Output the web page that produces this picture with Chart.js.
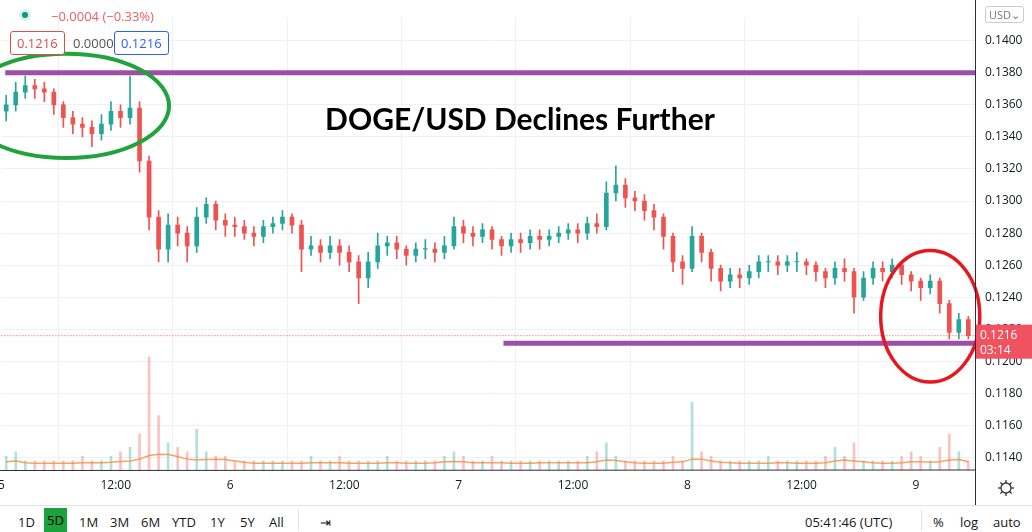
<!DOCTYPE html>
<html><head><meta charset="utf-8">
<script src="https://cdn.jsdelivr.net/npm/chart.js@4"></script>
<style>
body{margin:0;width:1032px;height:532px;overflow:hidden;background:#fff;font-family:"Open Sans",sans-serif;position:relative}
#wrap{position:absolute;left:-10px;top:0;width:1042px;height:505px}
.ov{position:absolute;font-size:13px}
.box{position:absolute;border:1px solid;border-radius:3px;padding:2px 6px;font-size:13px;background:#fff}
#bar{position:absolute;left:0;top:505px;width:1032px;height:27px;border-top:1px solid #e0e3eb;font-size:13px;color:#131722}
#bar span{position:absolute;top:7px}
</style></head><body>
<div id="wrap"><canvas id="c" width="1042" height="505"></canvas></div>
<div class="ov" style="left:19px;top:9px;width:12px;height:12px;border-radius:50%;background:#d9efe9"></div>
<div class="ov" style="left:22px;top:12px;width:6px;height:6px;border-radius:50%;background:#089981"></div>
<div class="ov" style="left:51px;top:7px;color:#f05e5e">−0.0004 (−0.33%)</div>
<div class="box" style="left:10px;top:31px;color:#e04b4b;border-color:#e04b4b">0.1216</div>
<div class="ov" style="left:73px;top:34px;color:#555">0.0000</div>
<div class="box" style="left:114px;top:31px;color:#2962ff;border-color:#2962ff">0.1216</div>
<div class="ov" style="left:300px;top:100px;width:440px;text-align:center;font-family:Lato,sans-serif;font-weight:bold;font-size:30px;color:#000">DOGE/USD Declines Further</div>
<div class="box" style="left:985px;top:6px;color:#777;border-color:#ccc;padding:0 3px;font-size:11px">USD⌄</div>
<div id="bar">
<span style="left:18px">1D</span>
<span style="left:44px;top:2px;padding:3px 3px;background:#1aa33c;color:#000">5D</span>
<span style="left:79px">1M</span><span style="left:110px">3M</span><span style="left:141px">6M</span>
<span style="left:172px">YTD</span><span style="left:210px">1Y</span><span style="left:240px">5Y</span><span style="left:269px">All</span>
<span style="left:298px;top:4px;height:20px;border-left:1px solid #e0e3eb"></span>
<span style="left:320px">⇥</span>
<span style="left:805px">05:41:46 (UTC)</span>
<span style="left:921px;top:4px;height:20px;border-left:1px solid #e0e3eb"></span>
<span style="left:933px">%</span><span style="left:960px">log</span><span style="left:993px">auto</span>
</div>
<script>
const opens=[.1356,.1360,.1368,.1372,.1370,.1368,.1360,.1352,.1348,.1346,.1342,.1348,.1356,.1352,.1358,.1325,.1290,.1270,.1285,.1280,.1272,.1290,.1298,.1288,.1285,.1284,.1280,.1278,.1284,.1286,.1290,.1285,.1270,.1272,.1268,.1272,.1268,.1262,.1252,.1262,.1272,.1274,.1270,.1266,.1270,.1270,.1268,.1272,.1284,.1280,.1278,.1282,.1276,.1272,.1276,.1274,.1278,.1276,.1278,.1280,.1282,.1280,.1286,.1284,.1305,.1310,.1302,.1300,.1294,.1290,.1278,.1262,.1258,.1278,.1268,.1258,.1250,.1254,.1252,.1256,.1262,.1262,.1260,.1262,.1262,.1260,.1256,.1252,.1258,.1256,.1240,.1252,.1258,.1256,.1260,.1254,.1250,.1246,.1250,.1236,.1218,.1226];
const closes=[.1360,.1368,.1372,.1370,.1368,.1360,.1352,.1348,.1346,.1342,.1348,.1356,.1352,.1358,.1325,.1290,.1270,.1285,.1280,.1272,.1290,.1298,.1288,.1285,.1284,.1280,.1278,.1284,.1286,.1290,.1285,.1270,.1272,.1268,.1272,.1268,.1262,.1252,.1262,.1272,.1274,.1270,.1266,.1270,.1270,.1268,.1272,.1284,.1280,.1278,.1282,.1276,.1272,.1276,.1274,.1278,.1276,.1278,.1280,.1282,.1280,.1286,.1284,.1305,.1310,.1302,.1300,.1294,.1290,.1278,.1262,.1258,.1278,.1268,.1258,.1250,.1254,.1252,.1256,.1262,.1262,.1260,.1262,.1262,.1260,.1256,.1252,.1258,.1256,.1240,.1252,.1258,.1256,.1260,.1254,.1250,.1246,.1250,.1236,.1218,.1226,.1216];
const highs=[.1366,.1374,.1378,.1376,.1374,.1370,.1362,.1356,.1352,.1350,.1354,.1362,.1360,.1378,.1362,.1328,.1294,.1292,.1290,.1284,.1296,.1302,.1300,.1292,.1290,.1288,.1284,.1288,.1290,.1294,.1292,.1288,.1278,.1276,.1278,.1276,.1272,.1266,.1268,.1280,.1278,.1278,.1272,.1274,.1276,.1274,.1278,.1290,.1288,.1284,.1286,.1284,.1278,.1280,.1280,.1282,.1282,.1282,.1284,.1286,.1286,.1290,.1292,.1312,.1322,.1314,.1306,.1304,.1298,.1292,.1280,.1266,.1284,.1280,.1270,.1260,.1258,.1258,.1260,.1266,.1266,.1266,.1266,.1268,.1264,.1262,.1258,.1262,.1264,.1258,.1256,.1262,.1262,.1264,.1262,.1256,.1252,.1254,.1252,.1238,.1230,.1228];
const lows=[.1350,.1356,.1364,.1364,.1362,.1354,.1346,.1342,.1340,.1334,.1338,.1344,.1346,.1348,.1318,.1282,.1262,.1262,.1272,.1262,.1268,.1286,.1282,.1278,.1278,.1276,.1272,.1274,.1280,.1282,.1280,.1256,.1266,.1262,.1264,.1260,.1256,.1236,.1246,.1258,.1266,.1264,.1260,.1262,.1264,.1262,.1264,.1270,.1274,.1272,.1274,.1270,.1266,.1268,.1268,.1270,.1270,.1272,.1274,.1276,.1274,.1276,.1280,.1282,.1300,.1296,.1294,.1288,.1282,.1270,.1256,.1248,.1256,.1262,.1250,.1244,.1246,.1246,.1248,.1252,.1256,.1254,.1256,.1256,.1254,.1250,.1246,.1248,.1250,.1230,.1238,.1248,.1250,.1252,.1248,.1244,.1238,.1242,.1230,.1214,.1214,.1214];
const volumes=[3,4,2,2,2,2,2,2,3,2,2,3,4,5,8,25,12,6,5,4,9,4,3,3,2,2,2,2,2,2,2,2,3,2,2,3,2,2,2,2,3,2,2,2,2,2,3,4,3,2,2,3,2,2,2,2,2,2,2,2,2,3,4,6,3,2,2,2,2,2,3,2,15,4,3,2,2,2,2,2,3,2,2,2,2,2,3,5,3,6,2,2,2,2,3,4,3,2,5,8,4,2];
const volumeMA=[1.8,2,1.6,1.5,1.5,1.5,1.5,1.5,1.6,1.6,1.6,1.7,1.9,2,2.4,3.2,3.5,3.4,3,2.4,2.2,2.3,2.4,2.3,2,1.7,1.5,1.5,1.5,1.5,1.5,1.5,1.6,1.6,1.6,1.6,1.5,1.5,1.5,1.5,1.6,1.6,1.5,1.5,1.5,1.6,1.8,1.9,1.8,1.6,1.6,1.6,1.6,1.5,1.5,1.5,1.6,1.6,1.6,1.6,1.6,1.6,1.8,2.2,2.1,1.8,1.6,1.5,1.5,1.5,1.7,1.8,2.4,2.4,2,1.7,1.6,1.5,1.5,1.5,1.5,1.6,1.6,1.5,1.5,1.5,1.6,2,2.2,2,1.8,1.6,1.5,1.5,1.6,1.8,1.8,1.7,1.8,2.2,2.3,1.8];
const xTickHours=[0,12,24,36,48,60,72,84,96];
const xTickLabels=['5','12:00','6','12:00','7','12:00','8','12:00','9'];
const yTicks=[0.1140,0.1160,0.1180,0.1200,0.1220,0.1240,0.1260,0.1280,0.1300,0.1320,0.1340,0.1360,0.1380,0.1400];
const resistance=0.1380, support=0.12113, lastPrice=0.1216;

const UP='#26a69a', DN='#ef5350';
const col=i=>closes[i]>=opens[i]?UP:DN;
const hx=i=>i+0.5;
const body=closes.map((c,i)=>({x:hx(i),y:[opens[i],c===opens[i]?c+0.00003:c]}));
const wick=closes.map((c,i)=>({x:hx(i),y:[lows[i],highs[i]]}));

const extras={id:'extras',
 afterDatasetsDraw(ch){
  const {ctx,scales:{x,y},chartArea:a}=ch;
  ctx.save();
  ctx.strokeStyle='#ef5350';ctx.lineWidth=1;ctx.setLineDash([1,2]);
  ctx.beginPath();ctx.moveTo(a.left,y.getPixelForValue(lastPrice));ctx.lineTo(a.right,y.getPixelForValue(lastPrice));ctx.stroke();
  ctx.setLineDash([]);
  ctx.strokeStyle='#9c4fa6';ctx.lineWidth=5;
  ctx.beginPath();ctx.moveTo(x.getPixelForValue(0.4),y.getPixelForValue(resistance));ctx.lineTo(a.right,y.getPixelForValue(resistance));ctx.stroke();
  ctx.beginPath();ctx.moveTo(x.getPixelForValue(52.7),y.getPixelForValue(support));ctx.lineTo(a.right,y.getPixelForValue(support));ctx.stroke();
  const ell=(hc,pc,hr,pr,c,w)=>{const cx=x.getPixelForValue(hc),cy=y.getPixelForValue(pc);
   const rx=x.getPixelForValue(hc+hr)-cx, ry=cy-y.getPixelForValue(pc+pr);
   ctx.strokeStyle=c;ctx.lineWidth=w;ctx.beginPath();ctx.ellipse(cx,cy,rx,ry,0,0,Math.PI*2);ctx.stroke();};
  ell(6.8,0.13594,10.8,0.00325,'#1fa33a',4);
  ell(97.5,0.12281,5.2,0.0041,'#e8161e',3.5);
  ctx.strokeStyle='#2a2e39';ctx.lineWidth=1;
  ctx.beginPath();ctx.moveTo(a.right+0.5,0);ctx.lineTo(a.right+0.5,a.bottom);ctx.lineTo(0,a.bottom+0.5);ctx.stroke();
  ctx.beginPath();ctx.moveTo(a.right+0.5,a.bottom);ctx.lineTo(a.right+0.5,ch.height);ctx.stroke();
  const py=y.getPixelForValue(lastPrice);
  ctx.fillStyle='#f0525f';ctx.fillRect(a.right+1,py-11,56,34);
  ctx.fillStyle='#fff';ctx.font='12px "Open Sans"';ctx.textBaseline='middle';
  ctx.fillText('0.1216',a.right+5,py+0);ctx.fillText('03:14',a.right+5,py+15);
  const gx=a.right+31, gy=488;
  ctx.strokeStyle='#333';ctx.lineWidth=1.3;ctx.beginPath();ctx.arc(gx,gy,5,0,Math.PI*2);ctx.stroke();
  for(let k=0;k<8;k++){const t=k*Math.PI/4;ctx.beginPath();ctx.moveTo(gx+5*Math.cos(t),gy+5*Math.sin(t));ctx.lineTo(gx+8*Math.cos(t),gy+8*Math.sin(t));ctx.stroke();}
  ctx.restore();
 }};

new Chart(document.getElementById('c'),{
 type:'bar',
 data:{datasets:[
  {type:'line',data:volumeMA.map((v,i)=>({x:hx(i),y:v})),yAxisID:'yv',borderColor:'rgba(245,140,60,0.8)',borderWidth:1.5,pointRadius:0,tension:0,order:0},
  {data:body,yAxisID:'y',backgroundColor:closes.map((c,i)=>col(i)),barThickness:4,grouped:false,order:1},
  {data:wick,yAxisID:'y',backgroundColor:closes.map((c,i)=>col(i)),barThickness:1,grouped:false,order:2},
  {data:volumes.map((v,i)=>({x:hx(i),y:v})),yAxisID:'yv',backgroundColor:closes.map((c,i)=>closes[i]>=opens[i]?'rgba(38,166,154,0.35)':'rgba(239,83,80,0.35)'),barThickness:2,grouped:false,order:3}
 ]},
 options:{responsive:false,animation:false,devicePixelRatio:1,
  plugins:{legend:{display:false},tooltip:{enabled:false}},
  scales:{
   x:{type:'linear',min:0,max:102.2,offset:false,
    afterBuildTicks:s=>{s.ticks=xTickHours.map(v=>({value:v}));},
    afterFit:s=>{s.height=35;},
    ticks:{callback:(v,i)=>xTickLabels[i],color:'#131722',font:{size:12,family:'Open Sans'},maxRotation:0,padding:8},
    grid:{color:'#eef0f5',drawTicks:false},border:{display:false}},
   y:{position:'right',min:0.11322,max:0.14147,
    afterBuildTicks:s=>{s.ticks=yTicks.map(v=>({value:v}));},
    afterFit:s=>{s.width=57;},
    ticks:{callback:v=>v.toFixed(4),color:'#131722',font:{size:12,family:'Open Sans'},padding:10},
    grid:{color:'#eef0f5',drawTicks:false},border:{display:false}},
   yv:{display:false,min:0,max:100}
  }},
 plugins:[extras]
});
</script>
</body></html>
